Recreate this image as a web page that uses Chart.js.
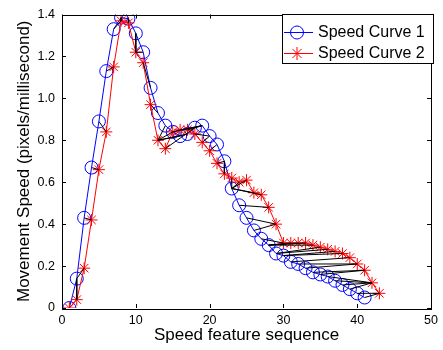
<!DOCTYPE html>
<html>
<head>
<meta charset="utf-8">
<script src="https://cdn.jsdelivr.net/npm/chart.js@4/dist/chart.umd.min.js"></script>
<style>
  html, body { margin:0; padding:0; background:#fff; }
  #wrap { width:443px; height:350px; }
</style>
</head>
<body>
<div id="wrap"><canvas id="speedChart" width="443" height="350"></canvas></div>
<script>
// values (x = 1, 2, 3 ...)
var curve1 = [0, 0.14, 0.43, 0.67, 0.89, 1.13, 1.33, 1.385, 1.38, 1.31, 1.22, 1.05, 0.93, 0.87, 0.84, 0.82, 0.83, 0.86, 0.87, 0.82,
  0.78, 0.70, 0.57, 0.49, 0.43, 0.37, 0.33, 0.30, 0.26, 0.25, 0.22, 0.21, 0.19, 0.17, 0.16, 0.15, 0.13, 0.11, 0.09, 0.07, 0.05];
var curve2 = [0, 0.04, 0.19, 0.42, 0.66, 0.84, 1.15, 1.37, 1.36, 1.22, 1.17, 0.97, 0.80, 0.76, 0.84, 0.85, 0.85, 0.83, 0.79, 0.75,
  0.69, 0.64, 0.62, 0.60, 0.61, 0.55, 0.54, 0.48, 0.40, 0.31, 0.31, 0.31, 0.31, 0.30, 0.29, 0.28, 0.27, 0.26, 0.24, 0.21, 0.18, 0.12, 0.07];
// matched pairs [index in curve 1, index in curve 2], 1-based
var matches = [[1,1],[2,2],[2,3],[3,4],[4,5],[5,6],[6,7],[7,8],[8,8],[9,9],[10,10],[11,10],[12,11],[13,12],[14,13],[15,13],[16,13],[17,13],
  [18,14],[19,15],[19,16],[19,17],[20,18],[20,19],[21,20],[22,21],[22,22],[23,23],[23,24],[23,25],[23,26],[23,27],[24,28],[25,29],[26,29],
  [27,30],[28,31],[28,32],[28,33],[28,34],[29,35],[29,36],[30,37],[30,38],[31,39],[32,40],[33,40],[34,41],[35,41],[36,42],[37,42],[38,42],[39,42],[40,43],[41,43]];
var xTicks = [0, 10, 20, 30, 40, 50];
var yTicks = [0, 0.2, 0.4, 0.6, 0.8, 1, 1.2, 1.4];
var seriesNames = ['Speed Curve 1', 'Speed Curve 2'];

function toPoints(arr){ return arr.map(function(v, i){ return { x: i + 1, y: v }; }); }

function matchSegments(){
  var pts = [];
  matches.forEach(function(m){
    pts.push({ x: m[0], y: curve1[m[0]-1] });
    pts.push({ x: m[1], y: curve2[m[1]-1] });
    pts.push({ x: m[1], y: null });
  });
  return pts;
}

var FONT = 'Liberation Sans, Arial, sans-serif';

// box, inward ticks and in-plot legend, drawn the way the original figure has them
var framePlugin = {
  id: 'frame',
  afterDraw: function(chart){
    var ctx = chart.ctx, a = chart.chartArea;
    var xs = chart.scales.x, ys = chart.scales.y;
    ctx.save();
    ctx.strokeStyle = '#000';
    ctx.lineWidth = 1;
    ctx.strokeRect(Math.round(a.left)+0.5, Math.round(a.top)+0.5, Math.round(a.right-a.left), Math.round(a.bottom-a.top));
    ctx.beginPath();
    xTicks.forEach(function(t){
      var px = Math.round(xs.getPixelForValue(t)) + 0.5;
      ctx.moveTo(px, a.bottom); ctx.lineTo(px, a.bottom - 4);
      ctx.moveTo(px, a.top); ctx.lineTo(px, a.top + 4);
    });
    yTicks.forEach(function(t){
      var py = Math.round(ys.getPixelForValue(t)) + 0.5;
      ctx.moveTo(a.left, py); ctx.lineTo(a.left + 4, py);
      ctx.moveTo(a.right, py); ctx.lineTo(a.right - 4, py);
    });
    ctx.stroke();

    // legend
    var lx = 282, ly = 14, lw = 151, lh = 49;
    ctx.fillStyle = '#fff';
    ctx.fillRect(lx, ly, lw, lh);
    ctx.strokeRect(lx + 0.5, ly + 0.5, lw, lh);
    var rows = [
      { name: seriesNames[0], color: '#0000ff', y: ly + 18 },
      { name: seriesNames[1], color: '#ff0000', y: ly + 39 }
    ];
    rows.forEach(function(r, i){
      ctx.strokeStyle = r.color;
      ctx.beginPath();
      ctx.moveTo(lx + 2, r.y + 0.5); ctx.lineTo(lx + 31, r.y + 0.5);
      ctx.stroke();
      var cx = lx + 15;
      ctx.beginPath();
      if (i === 0) {
        ctx.arc(cx, r.y + 0.5, 6.5, 0, Math.PI * 2);
      } else {
        for (var k = 0; k < 4; k++) {
          var ang = k * Math.PI / 4;
          ctx.moveTo(cx - 6.5 * Math.cos(ang), r.y + 0.5 - 6.5 * Math.sin(ang));
          ctx.lineTo(cx + 6.5 * Math.cos(ang), r.y + 0.5 + 6.5 * Math.sin(ang));
        }
      }
      ctx.stroke();
      ctx.fillStyle = '#000';
      ctx.font = '16px ' + FONT;
      ctx.textBaseline = 'middle';
      ctx.textAlign = 'left';
      ctx.fillText(r.name, lx + 36, r.y + 1);
    });
    ctx.restore();
  }
};

var chart = new Chart(document.getElementById('speedChart').getContext('2d'), {
  type: 'scatter',
  data: {
    datasets: [
      { label: 'match', data: matchSegments(), showLine: true, spanGaps: false, borderColor: '#000', borderWidth: 1,
        pointRadius: 0, order: 0 },
      { label: seriesNames[1], data: toPoints(curve2), showLine: true, borderColor: '#ff0000', borderWidth: 1,
        pointStyle: 'star', pointRadius: 6, pointBorderColor: '#ff0000', pointBorderWidth: 1, pointBackgroundColor: 'transparent', order: 1 },
      { label: seriesNames[0], data: toPoints(curve1), showLine: true, borderColor: '#0000ff', borderWidth: 1,
        pointStyle: 'circle', pointRadius: 6.5, pointBorderColor: '#0000ff', pointBorderWidth: 1, pointBackgroundColor: 'transparent', order: 2 }
    ]
  },
  options: {
    responsive: false,
    animation: false,
    layout: { padding: { top: 14, right: 7, left: 0, bottom: 0 } },
    plugins: { legend: { display: false }, tooltip: { enabled: false } },
    scales: {
      x: {
        type: 'linear', min: 0, max: 50,
        afterBuildTicks: function(s){ s.ticks = xTicks.map(function(v){ return { value: v }; }); },
        afterFit: function(s){ s.height = 42; },
        grid: { display: false, drawTicks: false },
        border: { display: false },
        ticks: { color: '#000', font: { family: FONT, size: 12.5 }, padding: 5 },
        title: { display: true, text: 'Speed feature sequence', color: '#000', font: { family: FONT, size: 17 }, padding: { top: 0, bottom: 4 } }
      },
      y: {
        type: 'linear', min: 0, max: 1.4,
        afterBuildTicks: function(s){ s.ticks = yTicks.map(function(v){ return { value: v }; }); },
        afterFit: function(s){ s.width = 62; },
        grid: { display: false, drawTicks: false },
        border: { display: false },
        ticks: { color: '#000', font: { family: FONT, size: 12.5 }, padding: 7 },
        title: { display: true, text: 'Movement Speed (pixels/millisecond)', color: '#000', font: { family: FONT, size: 17 }, padding: { top: 14, bottom: 0 } }
      }
    }
  },
  plugins: [framePlugin]
});
</script>
</body>
</html>
